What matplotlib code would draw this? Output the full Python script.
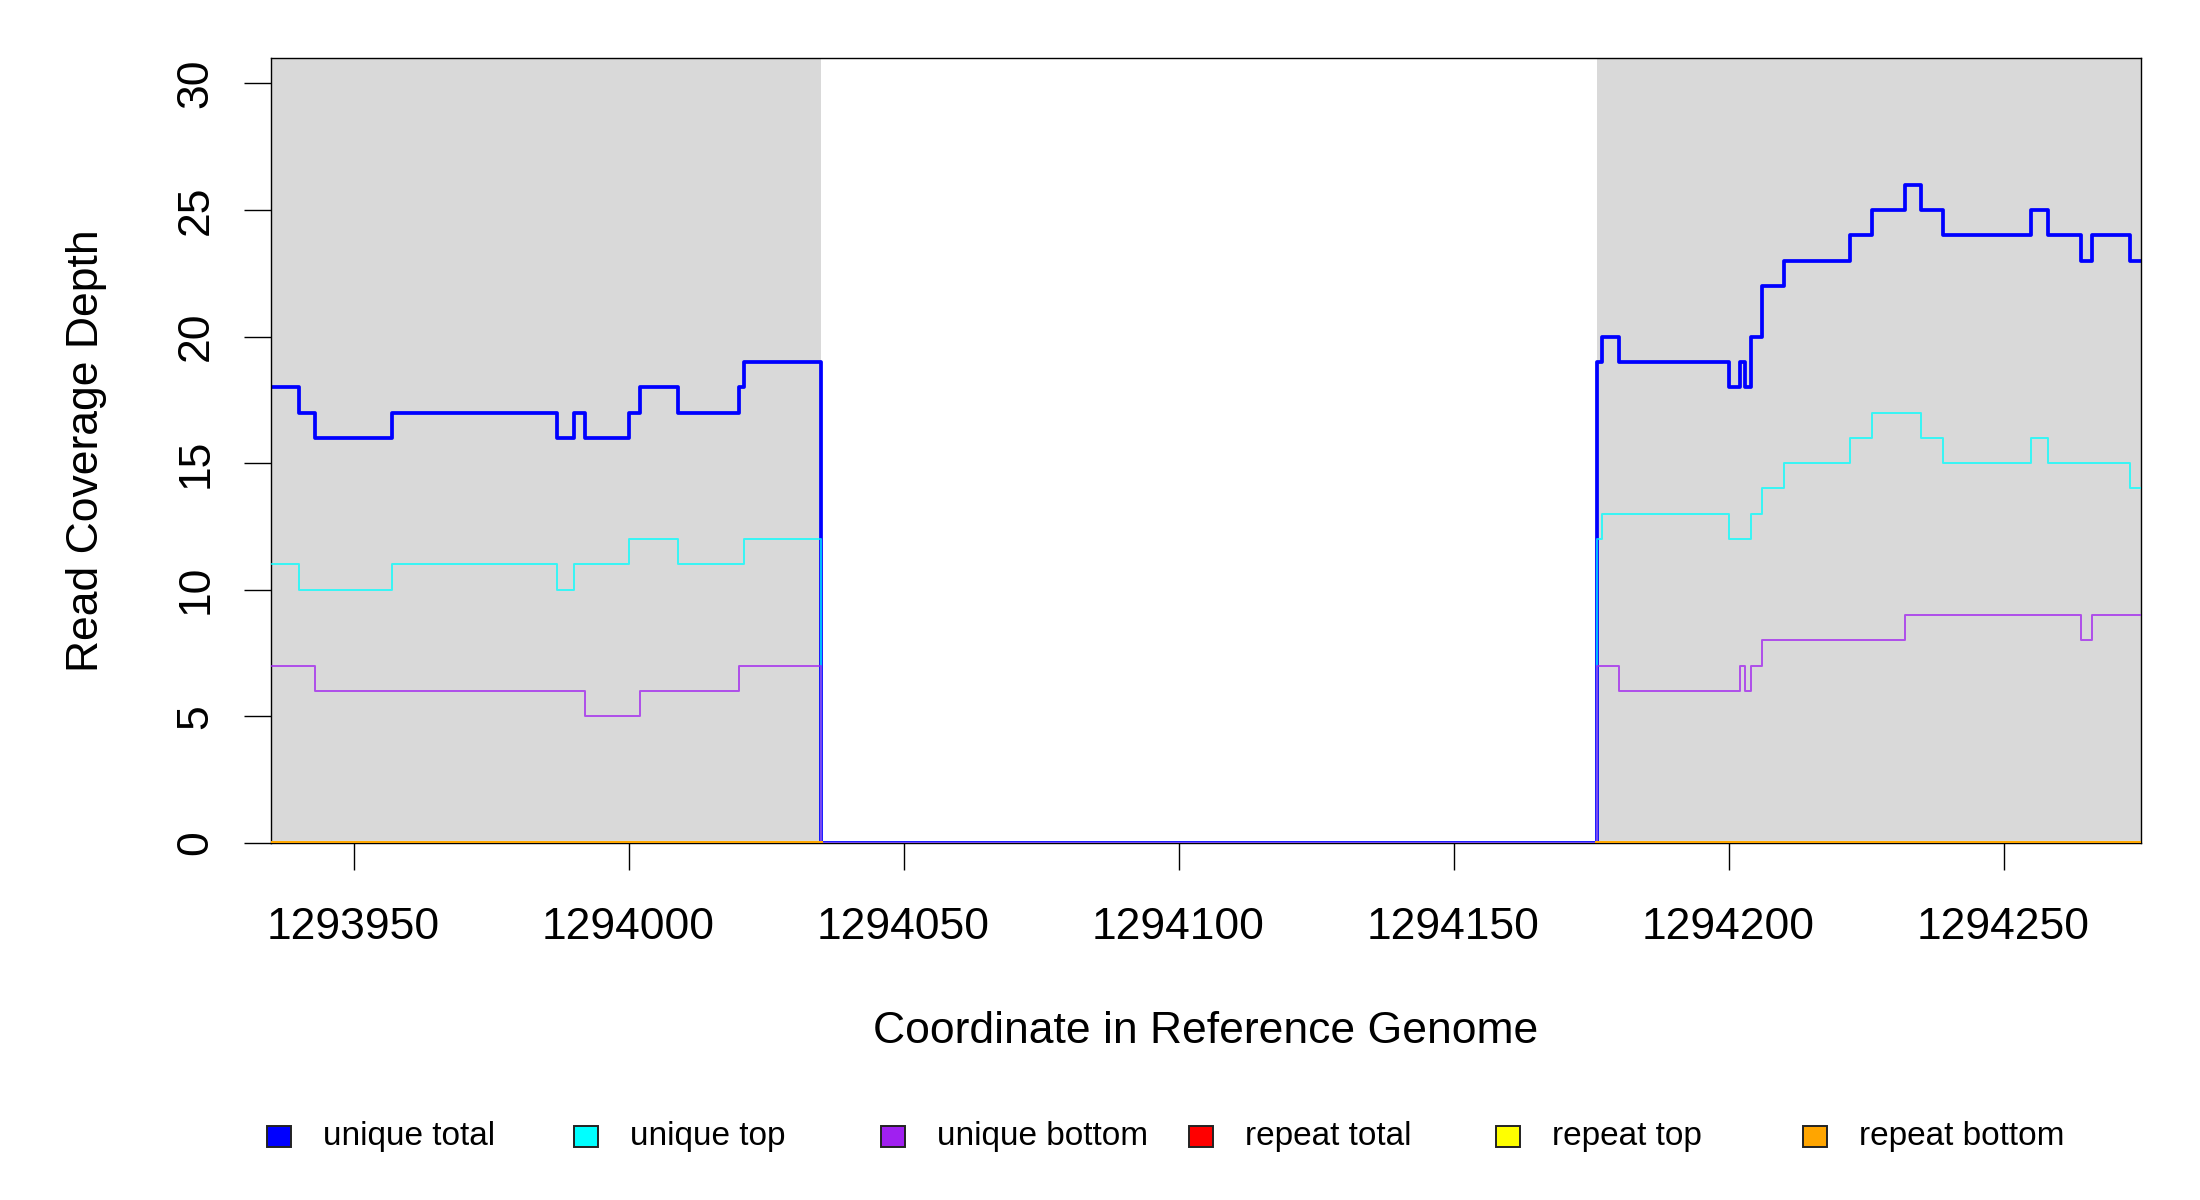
import numpy as np
import matplotlib.pyplot as plt
from matplotlib.patches import Rectangle

plt.rcParams['font.family'] = ['Liberation Sans', 'DejaVu Sans']

# Positions where the coverage changes (step plot, value holds until next position)
pos = [1293935, 1293940, 1293943, 1293957, 1293987, 1293990, 1293992,
       1294000, 1294002, 1294009, 1294020, 1294021, 1294035,
       1294176, 1294177, 1294180, 1294200, 1294202, 1294203, 1294204,
       1294206, 1294210, 1294222, 1294226, 1294232, 1294235, 1294239,
       1294255, 1294258, 1294264, 1294266, 1294273, 1294275]

unique_total = [18, 17, 16, 17, 16, 17, 16, 17, 18, 17, 18, 19, 0,
                19, 20, 19, 18, 19, 18, 20, 22, 23, 24, 25, 26, 25, 24,
                25, 24, 23, 24, 23, 23]
unique_top = [11, 10, 10, 11, 10, 11, 11, 12, 12, 11, 11, 12, 0,
              12, 13, 13, 12, 12, 12, 13, 14, 15, 16, 17, 17, 16, 15,
              16, 15, 15, 15, 14, 14]
unique_bottom = [7, 7, 6, 6, 6, 6, 5, 5, 6, 6, 7, 7, 0,
                 7, 7, 6, 6, 7, 6, 7, 8, 8, 8, 8, 9, 9, 9,
                 9, 9, 8, 9, 9, 9]

# repeat coverage only exists inside the shaded (flanking) regions
repeat_pos = [1293935, 1294035, 1294176, 1294275]
repeat_total = [0, np.nan, 0, 0]
repeat_top = [0, np.nan, 0, 0]
repeat_bottom = [0, np.nan, 0, 0]

shaded = [(1293935, 1294035), (1294176, 1294275)]

labels = ['unique total', 'unique top', 'unique bottom',
          'repeat total', 'repeat top', 'repeat bottom']
colors = ['#0000ff', '#00ffff', '#a020f0', '#ff0000', '#ffff00', '#ffa500']

fig = plt.figure(figsize=(11, 6), dpi=200)
ax = fig.add_axes([271 / 2200, 1 - 843 / 1200, (2141 - 271) / 2200, (843 - 58) / 1200])

for a, b in shaded:
    ax.axvspan(a, b, color='#d9d9d9', lw=0, zorder=0)

ax.step(pos, unique_total, where='post', color=colors[0], lw=1.35, zorder=2)
ax.step(pos, unique_top, where='post', color=colors[1], lw=0.7, alpha=0.75, zorder=3)
ax.step(pos, unique_bottom, where='post', color=colors[2], lw=0.7, alpha=0.75, zorder=4)
ax.step(repeat_pos, repeat_total, where='post', color=colors[3], lw=1.4, zorder=5)
ax.step(repeat_pos, repeat_top, where='post', color=colors[4], lw=1.4, zorder=6)
ax.step(repeat_pos, repeat_bottom, where='post', color=colors[5], lw=1.4, zorder=7)

ax.set_xlim(1293935, 1294275)
ax.set_ylim(0, 31)
ax.set_xticks(np.arange(1293950, 1294251, 50))
ax.set_yticks(np.arange(0, 31, 5))
ax.ticklabel_format(axis='x', useOffset=False, style='plain')

for s in ax.spines.values():
    s.set_linewidth(0.5)
    s.set_color('black')

ax.tick_params(axis='both', direction='out', length=9.7, width=0.5, labelsize=16)
ax.tick_params(axis='x', pad=13.5)
ax.tick_params(axis='y', pad=10, labelrotation=90)
for lbl in ax.get_yticklabels():
    lbl.set_va('center')

ax.set_xlabel('Coordinate in Reference Genome', fontsize=16)
ax.set_ylabel('Read Coverage Depth', fontsize=16)
ax.xaxis.set_label_coords(0.5, -0.2395)
ax.xaxis.label.set_va('center')
ax.yaxis.set_label_coords(-0.0989, 0.5)
ax.yaxis.label.set_va('center')

# legend row along the bottom, evenly spaced like the original
for i, (lab, col) in enumerate(zip(labels, colors)):
    cx = 279 + 307.2 * i
    cy = 1136
    fig.patches.append(Rectangle(((cx - 12) / 2200, 1 - (cy + 10.5) / 1200),
                                 24 / 2200, 21 / 1200, transform=fig.transFigure,
                                 facecolor=col, edgecolor='#222222', lw=0.7))
    fig.text((cx + 44) / 2200, 1 - cy / 1200, lab, fontsize=12,
             ha='left', va='center')

fig.savefig('out.png', dpi=200)
